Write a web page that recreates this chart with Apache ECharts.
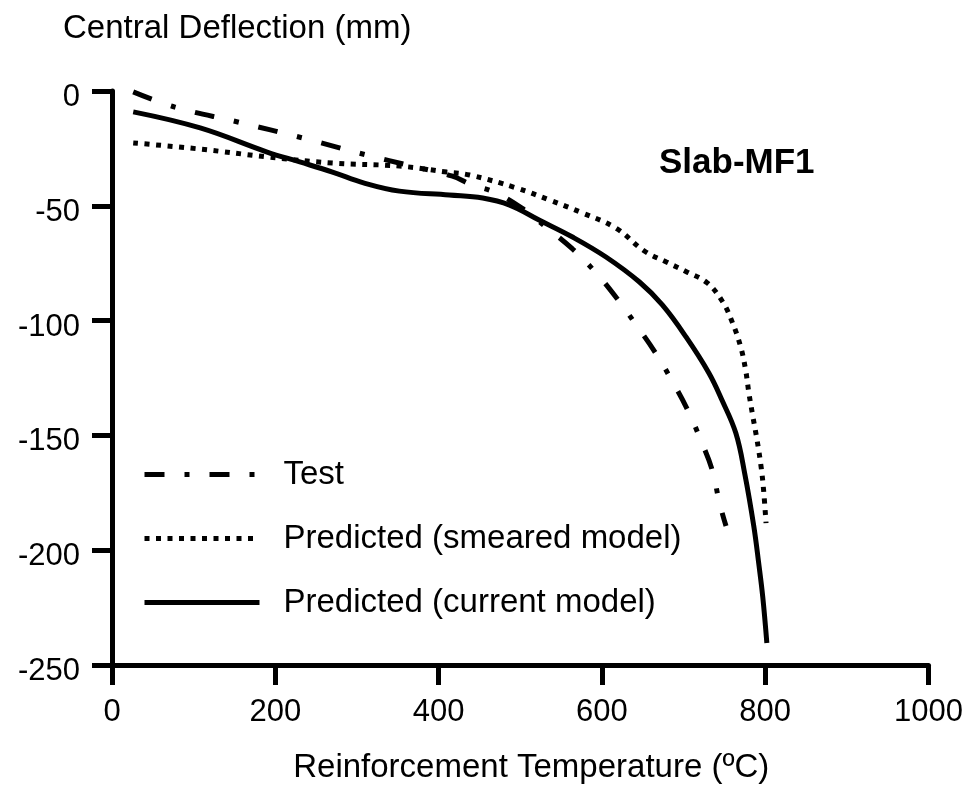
<!DOCTYPE html>
<html>
<head>
<meta charset="utf-8">
<script src="https://cdn.jsdelivr.net/npm/echarts@6/dist/echarts.min.js"></script>
<style>
html,body{margin:0;padding:0;background:#fff;}
#chart{width:966px;height:789px;}
</style>
</head>
<body>
<div id="chart"></div>
<script>
// Reinforcement temperature (ºC) and central deflection (mm)
const testT = [26, 77, 154, 234, 312, 367, 416, 441, 468, 502, 533, 564, 593, 619, 642, 665, 686, 705, 721, 735, 744, 752];
const testD = [-0.4, -7.0, -13.5, -20.5, -27.9, -32.7, -37.0, -40.9, -44.0, -51.0, -59.7, -68.8, -79.3, -90.6, -101.9, -113.7, -126.3, -138.9, -152, -165, -179.4, -189.5];

const smearT = [26, 108, 190, 270, 352, 410, 438, 495, 536, 576, 617, 652, 679, 704, 729, 748, 760, 770, 776, 780, 785, 790, 795, 798, 801];
const smearD = [-22.6, -25.3, -28.7, -31.4, -32.7, -35.3, -36.6, -42.2, -47.5, -53.1, -59.7, -69.7, -74.5, -78.8, -83.6, -91.9, -101, -111.5, -121.5, -131.5, -142, -152, -163.8, -173.8, -188.2];

const currT = [26, 108, 190, 230, 270, 309, 352, 413, 454, 487, 523, 564, 605, 646, 674, 703, 731, 747, 764, 775, 786, 792, 797, 802];
const currD = [-9.1, -16.1, -26.6, -30.9, -35.3, -40.1, -43.6, -45.3, -46.6, -49.7, -56.2, -63.6, -72.3, -83.2, -93.2, -107.1, -122.8, -134.6, -149, -166.8, -189.5, -205.6, -220.4, -240.4];

const seriesNames = ['Test', 'Predicted (smeared model)', 'Predicted (current model)'];
const xTicks = {min: 0, max: 1000, step: 200};
const yTicks = {min: -250, max: 0, step: 50};

function pairs(xs, ys) { return xs.map((x, i) => [x, ys[i]]); }

const FONT = "'Liberation Sans', Arial, Helvetica, sans-serif";
const chart = echarts.init(document.getElementById('chart'), null, {renderer: 'canvas'});

const option = {
  animation: false,
  backgroundColor: '#ffffff',
  textStyle: {fontFamily: FONT, color: '#000'},
  title: {
    text: 'Slab-MF1',
    left: 659, top: 146,
    padding: 0,
    textStyle: {fontFamily: FONT, fontSize: 35, fontWeight: 'bold', color: '#000'}
  },
  grid: {left: 112, right: 36, top: 91, bottom: 124, containLabel: false},
  legend: {
    orient: 'vertical',
    left: 137, top: 453,
    itemWidth: 115, itemHeight: 20, itemGap: 31,
    lineStyle: {width: 5},
    itemStyle: {opacity: 0},
    textStyle: {fontFamily: FONT, fontSize: 33, color: '#000', padding: [0, 0, 0, 19]},
    data: seriesNames
  },
  xAxis: {
    type: 'value',
    min: xTicks.min, max: xTicks.max, interval: xTicks.step,
    name: 'Reinforcement Temperature (ºC)',
    nameLocation: 'middle', nameGap: 86,
    nameTextStyle: {fontFamily: FONT, fontSize: 33, color: '#000', padding: [0, 0, 0, 22]},
    axisLine: {show: true, onZero: false, lineStyle: {color: '#000', width: 5}},
    axisTick: {show: true, length: 20, lineStyle: {color: '#000', width: 5}},
    axisLabel: {fontFamily: FONT, fontSize: 31, color: '#000', margin: 32, formatter: v => String(v)},
    splitLine: {show: false}
  },
  yAxis: {
    type: 'value',
    min: yTicks.min, max: yTicks.max, interval: yTicks.step,
    name: 'Central Deflection (mm)',
    nameLocation: 'end', nameGap: 46,
    nameTextStyle: {fontFamily: FONT, fontSize: 33, color: '#000', align: 'left', padding: [0, 0, 0, -49]},
    axisLine: {show: true, onZero: false, lineStyle: {color: '#000', width: 5}},
    axisTick: {show: true, length: 20, lineStyle: {color: '#000', width: 5}},
    axisLabel: {fontFamily: FONT, fontSize: 31, color: '#000', margin: 32, verticalAlign: 'top', padding: [-9, 0, 0, 0], formatter: v => String(v)},
    splitLine: {show: false}
  },
  series: [
    {
      name: seriesNames[0], type: 'line', data: pairs(testT, testD),
      symbol: 'none', smooth: 0.4, color: '#000',
      lineStyle: {color: '#000', width: 5, type: [20, 20, 5, 20], cap: 'butt'}
    },
    {
      name: seriesNames[1], type: 'line', data: pairs(smearT, smearD),
      symbol: 'none', smooth: 0.4, color: '#000',
      lineStyle: {color: '#000', width: 5, type: [5, 6.5], cap: 'butt'}
    },
    {
      name: seriesNames[2], type: 'line', data: pairs(currT, currD),
      symbol: 'none', smooth: 0.4, color: '#000',
      lineStyle: {color: '#000', width: 5, type: 'solid'}
    }
  ]
};
chart.setOption(option);
</script>
</body>
</html>
